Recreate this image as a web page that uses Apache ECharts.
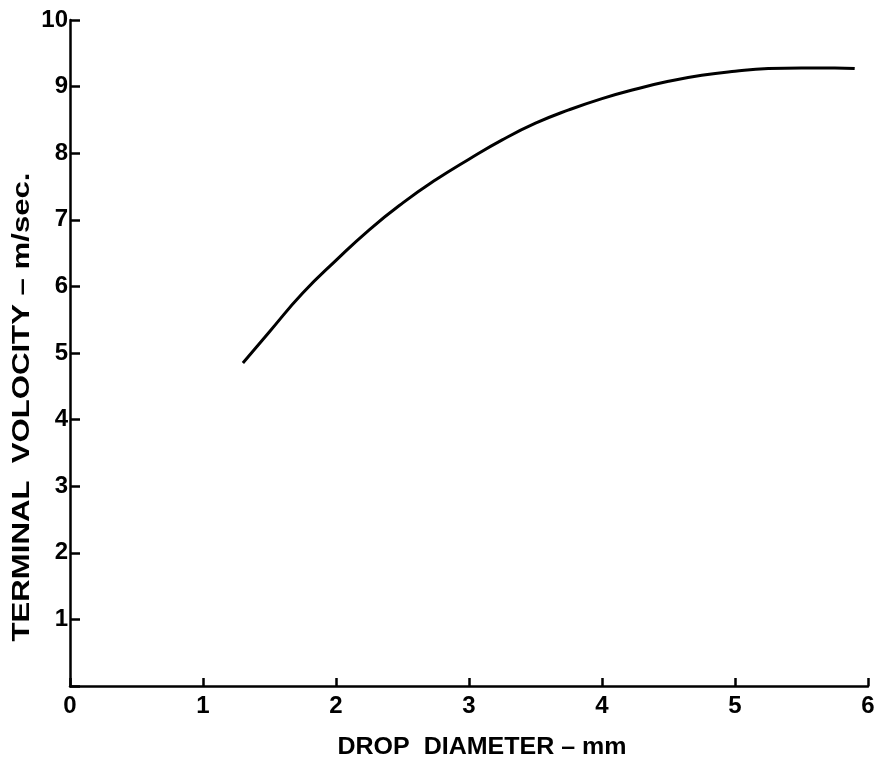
<!DOCTYPE html>
<html><head><meta charset="utf-8">
<script src="https://cdn.jsdelivr.net/npm/echarts@6/dist/echarts.min.js"></script>
<style>html,body{margin:0;padding:0;background:#fff}#c{width:882px;height:774px}</style>
</head><body><div id="c"></div>
<script>
const diameter = [1.3, 1.5, 1.75, 2.0, 2.25, 2.5, 2.75, 3.0, 3.25, 3.5, 3.75, 4.0, 4.25, 4.5, 4.75, 5.0, 5.25, 5.5, 5.75, 5.9];
const velocity = [4.85, 5.32, 5.90, 6.39, 6.85, 7.25, 7.60, 7.91, 8.20, 8.45, 8.65, 8.82, 8.96, 9.08, 9.17, 9.23, 9.27, 9.28, 9.28, 9.27];
const xTicks = ['0', '1', '2', '3', '4', '5', '6'];
const yTicks = ['', '1', '2', '3', '4', '5', '6', '7', '8', '9', '10'];
const xTitle = 'DROP  DIAMETER – mm';
const yTitle = 'TERMINAL  VOLOCITY – m/sec.';

const font = '"Liberation Sans", Arial, sans-serif';
const xTitleFont = 'bold 23px ' + font;
const yTitleFont = 'bold 23px ' + font;
function measure(t, f) {
  const ctx = document.createElement('canvas').getContext('2d');
  ctx.font = f;
  return ctx.measureText(t).width;
}
const xScale = 289 / measure(xTitle, xTitleFont);
const yScale = 469 / measure(yTitle, yTitleFont);

const chart = echarts.init(document.getElementById('c'), null, {renderer: 'canvas'});
chart.setOption({
  animation: false,
  backgroundColor: '#fff',
  grid: {left: 70, right: 14, top: 20, bottom: 88, containLabel: false},
  xAxis: {
    type: 'value', min: 0, max: 6, interval: 1,
    axisLine: {show: true, lineStyle: {color: '#000', width: 2.5}},
    axisTick: {show: true, inside: true, length: 8, lineStyle: {color: '#000', width: 2.5}},
    axisLabel: {margin: 8, color: '#000', fontFamily: font, fontSize: 24, fontWeight: 'bold',
      formatter: v => xTicks[Math.round(v)]},
    splitLine: {show: false}
  },
  yAxis: {
    type: 'value', min: 0, max: 10, interval: 1,
    axisLine: {show: true, lineStyle: {color: '#000', width: 2.5}},
    axisTick: {show: true, inside: true, length: 10, lineStyle: {color: '#000', width: 2.5}},
    axisLabel: {margin: 2, color: '#000', fontFamily: font, fontSize: 24, fontWeight: 'bold',
      formatter: v => yTicks[Math.round(v)]},
    splitLine: {show: false}
  },
  graphic: [
    {type: 'text', x: 482, y: 748, scaleX: xScale,
      style: {text: xTitle, fill: '#000', font: xTitleFont, textAlign: 'center', textVerticalAlign: 'middle'}},
    {type: 'text', x: 23, y: 407, rotation: Math.PI / 2, scaleX: yScale,
      style: {text: yTitle, fill: '#000', font: yTitleFont, textAlign: 'center', textVerticalAlign: 'middle'}}
  ],
  series: [{
    type: 'line', data: diameter.map((d, i) => [d, velocity[i]]),
    smooth: 0.5, showSymbol: false, symbol: 'none',
    lineStyle: {color: '#000', width: 3}
  }]
});
</script></body></html>
